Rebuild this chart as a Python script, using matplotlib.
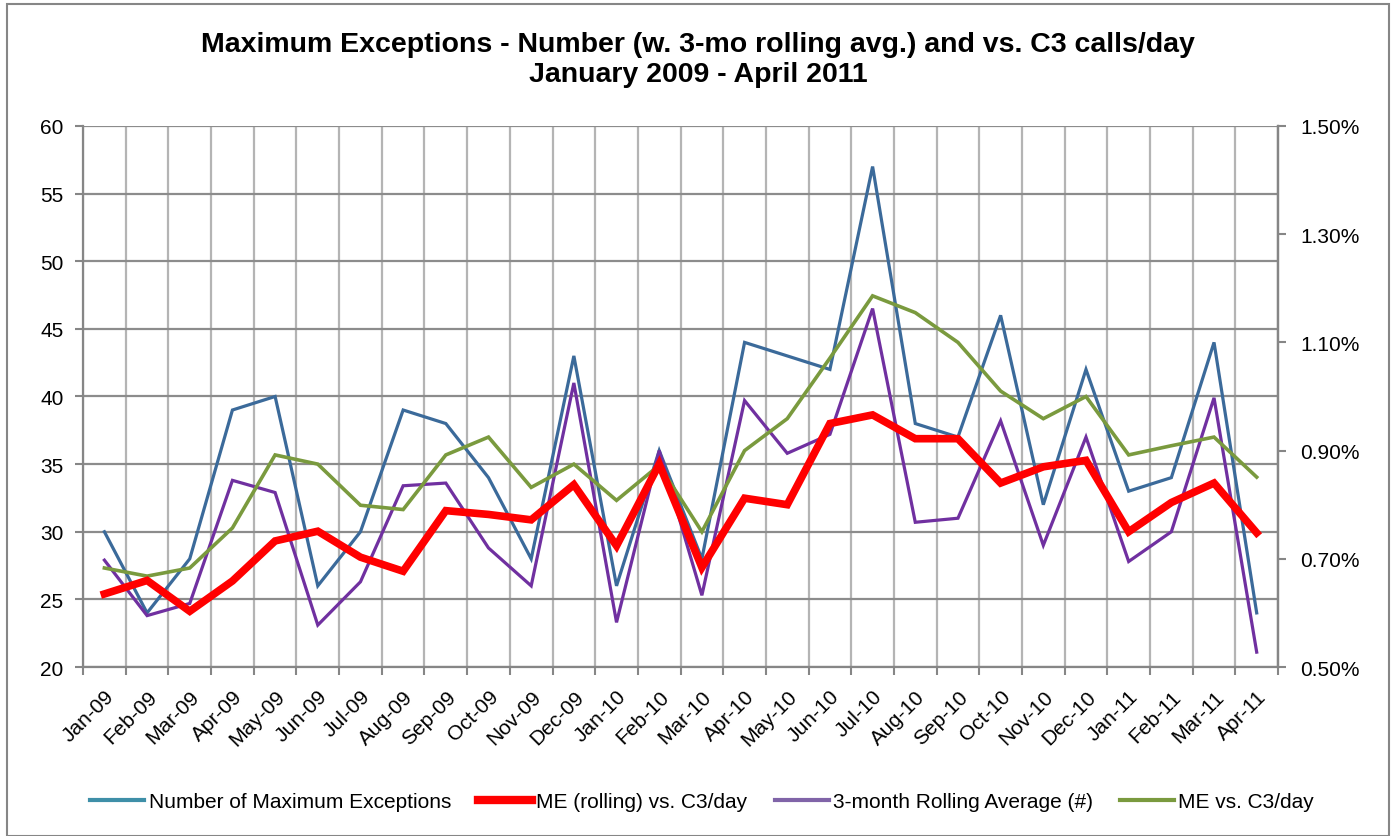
import matplotlib
matplotlib.use("Agg")
import matplotlib.pyplot as plt
import numpy as np
from matplotlib.lines import Line2D
from matplotlib.ticker import FixedLocator, FuncFormatter

plt.rcParams['font.family'] = ['Liberation Sans', 'DejaVu Sans']

# Months on the x axis
months = ["Jan-09", "Feb-09", "Mar-09", "Apr-09", "May-09", "Jun-09", "Jul-09",
          "Aug-09", "Sep-09", "Oct-09", "Nov-09", "Dec-09", "Jan-10", "Feb-10",
          "Mar-10", "Apr-10", "May-10", "Jun-10", "Jul-10", "Aug-10", "Sep-10",
          "Oct-10", "Nov-10", "Dec-10", "Jan-11", "Feb-11", "Mar-11", "Apr-11"]

# Left axis series (counts)
number_me = [30, 24, 28, 39, 40, 26, 30, 39, 38, 34, 28, 43, 26, 36,
             28, 44, 43, 42, 57, 38, 37, 46, 32, 42, 33, 34, 44, 24]
rolling_avg = [27.9, 23.8, 24.7, 33.8, 32.9, 23.1, 26.3, 33.4, 33.6, 28.8, 26.0, 41.0, 23.3, 36.0,
               25.3, 39.7, 35.8, 37.2, 46.5, 30.7, 31.0, 38.2, 29.0, 37.0, 27.8, 30.0, 39.9, 21.1]

# Right axis series (percent)
me_vs_c3 = [0.683, 0.668, 0.683, 0.757, 0.892, 0.875, 0.799, 0.791, 0.892, 0.925, 0.832, 0.875, 0.808, 0.873,
            0.750, 0.900, 0.959, 1.071, 1.186, 1.155, 1.100, 1.010, 0.959, 1.000, 0.892, 0.909, 0.925, 0.851]
me_rolling_vs_c3 = [0.635, 0.660, 0.603, 0.659, 0.733, 0.751, 0.703, 0.677, 0.789, 0.782, 0.772, 0.837, 0.724, 0.875,
                    0.684, 0.812, 0.800, 0.950, 0.966, 0.922, 0.922, 0.840, 0.870, 0.882, 0.750, 0.804, 0.840, 0.748]

left_ticks = [20, 25, 30, 35, 40, 45, 50, 55, 60]
right_ticks = [0.5, 0.7, 0.9, 1.1, 1.3, 1.5]

# Colours
blue = "#3B6A9A"
red = "#FF0000"
purple = "#7030A0"
green = "#7A9A3E"
axis_grey = "#868686"

fig = plt.figure(figsize=(13.96, 8.37), dpi=100)
ax = fig.add_axes([0.0595, 0.2019, 0.856, 0.6464])
ax2 = ax.twinx()

x = np.arange(len(months))

# Primary axis lines
ax.plot(x, number_me, color=blue, lw=2.3, solid_joinstyle="miter", zorder=3)
ax.plot(x, rolling_avg, color=purple, lw=2.3, solid_joinstyle="miter", zorder=3)

# Secondary axis lines
ax2.plot(x, me_vs_c3, color=green, lw=2.6, solid_joinstyle="miter", zorder=3)
ax2.plot(x, me_rolling_vs_c3, color=red, lw=5.5, solid_joinstyle="miter", zorder=4)

ax.set_xlim(-0.5, len(months) - 0.5)
ax.set_ylim(20, 60)
ax2.set_ylim(0.5, 1.5)

# Category boundaries as major ticks, labels centred on minor ticks
ax.xaxis.set_major_locator(FixedLocator(np.arange(-0.5, len(months), 1.0)))
ax.xaxis.set_minor_locator(FixedLocator(x))
ax.set_xticklabels([], minor=False)
ax.set_xticklabels(months, minor=True, rotation=45, ha="right", va="top",
                   rotation_mode="anchor", fontsize=15)
ax.tick_params(axis="x", which="major", direction="out", length=6, color=axis_grey, width=1.5)
ax.tick_params(axis="x", which="minor", length=0, pad=14)

ax.set_yticks(left_ticks)
ax.tick_params(axis="y", direction="out", length=6, color=axis_grey, width=1.5, labelsize=15, pad=8)
ax2.set_yticks(right_ticks)
ax2.yaxis.set_major_formatter(FuncFormatter(lambda v, p: "%.2f%%" % v))
ax2.tick_params(axis="y", direction="out", length=6, color=axis_grey, width=1.5, labelsize=15, pad=10)

# Grid
ax.grid(False)
ax.set_axisbelow(True)
for v in np.arange(-0.5, len(months), 1.0):
    ax.axvline(v, color="#b4b4b4", lw=1.6, zorder=1)
for t in left_ticks:
    ax.axhline(t, color="#8c8c8c", lw=1.6, zorder=1)

for a in (ax, ax2):
    a.spines["top"].set_visible(False)
    for s in ("left", "right", "bottom"):
        a.spines[s].set_color(axis_grey)
        a.spines[s].set_linewidth(1.6)
ax2.spines["left"].set_visible(False)
ax2.spines["bottom"].set_visible(False)

# Title
fig.text(0.5, 0.928, "Maximum Exceptions - Number (w. 3-mo rolling avg.) and vs. C3 calls/day\nJanuary 2009 - April 2011",
         ha="center", va="center", fontsize=20.5, fontweight="bold", linespacing=1.18)

# Legend at the bottom
handles = [Line2D([], [], color="#3E8FA8", lw=3),
           Line2D([], [], color=red, lw=6),
           Line2D([], [], color="#8064A8", lw=3),
           Line2D([], [], color=green, lw=3)]
labels = ["Number of Maximum Exceptions", "ME (rolling) vs. C3/day",
          "3-month Rolling Average (#)", "ME vs. C3/day"]
fig.legend(handles, labels, loc="center", bbox_to_anchor=(0.503, 0.041), ncol=4,
           frameon=False, fontsize=15, handlelength=2.6, handletextpad=0.2,
           columnspacing=1.3)

# Chart area border
fig.patches.append(plt.Rectangle((0.005, 0.0), 0.99, 0.994, transform=fig.transFigure,
                                 fill=False, edgecolor="#868686", lw=1.5))

plt.savefig("out.png", dpi=100)
